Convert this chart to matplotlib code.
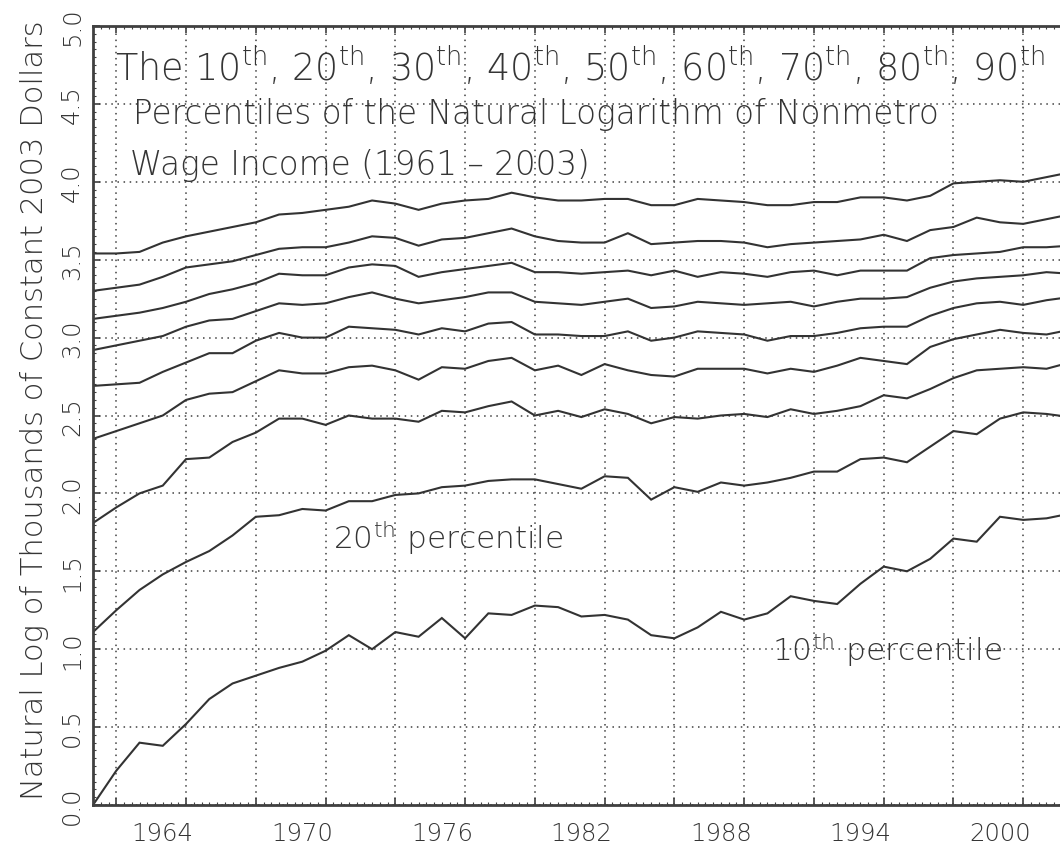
import matplotlib
matplotlib.use("Agg")
import matplotlib.pyplot as plt
from matplotlib.ticker import MultipleLocator

FONT = "DejaVu Sans"
plt.rcParams['font.family'] = [FONT]
plt.rcParams['mathtext.fontset'] = 'custom'
plt.rcParams['mathtext.rm'] = 'DejaVu Sans:light'
plt.rcParams['mathtext.it'] = 'DejaVu Sans:light'
plt.rcParams['mathtext.bf'] = 'DejaVu Sans:light'

years = list(range(1961, 2004))

p10 = [0.00, 0.22, 0.40, 0.38, 0.52, 0.68, 0.78, 0.83, 0.88, 0.92, 0.99, 1.09, 1.00, 1.11, 1.08,
       1.20, 1.07, 1.23, 1.22, 1.28, 1.27, 1.21, 1.22, 1.19, 1.09, 1.07, 1.14, 1.24, 1.19, 1.23,
       1.34, 1.31, 1.29, 1.42, 1.53, 1.50, 1.58, 1.71, 1.69, 1.85, 1.83, 1.84, 1.87]
p20 = [1.11, 1.25, 1.38, 1.48, 1.56, 1.63, 1.73, 1.85, 1.86, 1.90, 1.89, 1.95, 1.95, 1.99, 2.00,
       2.04, 2.05, 2.08, 2.09, 2.09, 2.06, 2.03, 2.11, 2.10, 1.96, 2.04, 2.01, 2.07, 2.05, 2.07,
       2.10, 2.14, 2.14, 2.22, 2.23, 2.20, 2.30, 2.40, 2.38, 2.48, 2.52, 2.51, 2.49]
p30 = [1.81, 1.91, 2.00, 2.05, 2.22, 2.23, 2.33, 2.39, 2.48, 2.48, 2.44, 2.50, 2.48, 2.48, 2.46,
       2.53, 2.52, 2.56, 2.59, 2.50, 2.53, 2.49, 2.54, 2.51, 2.45, 2.49, 2.48, 2.50, 2.51, 2.49,
       2.54, 2.51, 2.53, 2.56, 2.63, 2.61, 2.67, 2.74, 2.79, 2.80, 2.81, 2.80, 2.84]
p40 = [2.35, 2.40, 2.45, 2.50, 2.60, 2.64, 2.65, 2.72, 2.79, 2.77, 2.77, 2.81, 2.82, 2.79, 2.73,
       2.81, 2.80, 2.85, 2.87, 2.79, 2.82, 2.76, 2.83, 2.79, 2.76, 2.75, 2.80, 2.80, 2.80, 2.77,
       2.80, 2.78, 2.82, 2.87, 2.85, 2.83, 2.94, 2.99, 3.02, 3.05, 3.03, 3.02, 3.05]
p50 = [2.69, 2.70, 2.71, 2.78, 2.84, 2.90, 2.90, 2.98, 3.03, 3.00, 3.00, 3.07, 3.06, 3.05, 3.02,
       3.06, 3.04, 3.09, 3.10, 3.02, 3.02, 3.01, 3.01, 3.04, 2.98, 3.00, 3.04, 3.03, 3.02, 2.98,
       3.01, 3.01, 3.03, 3.06, 3.07, 3.07, 3.14, 3.19, 3.22, 3.23, 3.21, 3.24, 3.26]
p60 = [2.92, 2.95, 2.98, 3.01, 3.07, 3.11, 3.12, 3.17, 3.22, 3.21, 3.22, 3.26, 3.29, 3.25, 3.22,
       3.24, 3.26, 3.29, 3.29, 3.23, 3.22, 3.21, 3.23, 3.25, 3.19, 3.20, 3.23, 3.22, 3.21, 3.22,
       3.23, 3.20, 3.23, 3.25, 3.25, 3.26, 3.32, 3.36, 3.38, 3.39, 3.40, 3.42, 3.41]
p70 = [3.12, 3.14, 3.16, 3.19, 3.23, 3.28, 3.31, 3.35, 3.41, 3.40, 3.40, 3.45, 3.47, 3.46, 3.39,
       3.42, 3.44, 3.46, 3.48, 3.42, 3.42, 3.41, 3.42, 3.43, 3.40, 3.43, 3.39, 3.42, 3.41, 3.39,
       3.42, 3.43, 3.40, 3.43, 3.43, 3.43, 3.51, 3.53, 3.54, 3.55, 3.58, 3.58, 3.59]
p80 = [3.30, 3.32, 3.34, 3.39, 3.45, 3.47, 3.49, 3.53, 3.57, 3.58, 3.58, 3.61, 3.65, 3.64, 3.59,
       3.63, 3.64, 3.67, 3.70, 3.65, 3.62, 3.61, 3.61, 3.67, 3.60, 3.61, 3.62, 3.62, 3.61, 3.58,
       3.60, 3.61, 3.62, 3.63, 3.66, 3.62, 3.69, 3.71, 3.77, 3.74, 3.73, 3.76, 3.79]
p90 = [3.54, 3.54, 3.55, 3.61, 3.65, 3.68, 3.71, 3.74, 3.79, 3.80, 3.82, 3.84, 3.88, 3.86, 3.82,
       3.86, 3.88, 3.89, 3.93, 3.90, 3.88, 3.88, 3.89, 3.89, 3.85, 3.85, 3.89, 3.88, 3.87, 3.85,
       3.85, 3.87, 3.87, 3.90, 3.90, 3.88, 3.91, 3.99, 4.00, 4.01, 4.00, 4.03, 4.06]

series = [p10, p20, p30, p40, p50, p60, p70, p80, p90]

x_ticks = [1964, 1970, 1976, 1982, 1988, 1994, 2000]
y_ticks = [0.0, 0.5, 1.0, 1.5, 2.0, 2.5, 3.0, 3.5, 4.0, 4.5, 5.0]

INK = "#353535"
LINE = "#333333"
TW = 'light'

fig = plt.figure(figsize=(10.6, 8.45), dpi=100)
ax = fig.add_axes([93/1060, 39/845, (1069.75-93)/1060, (806-27)/845])

for s in series:
    ax.plot(years, s, color=LINE, lw=1.5, solid_joinstyle='miter')

ax.set_xlim(1961, 2003)
ax.set_ylim(0, 5)

ax.xaxis.set_major_locator(MultipleLocator(3))
ax.xaxis.set_minor_locator(MultipleLocator(1/3))
ax.yaxis.set_major_locator(MultipleLocator(0.5))
ax.yaxis.set_minor_locator(MultipleLocator(0.05))

ax.grid(True, which='major', color="#404040", linestyle=(0, (1, 3)), linewidth=1.1)

ax.set_xticklabels([])
ax.set_yticklabels([])
ax.tick_params(which='major', direction='in', length=5, width=1.2, color="#404040")
ax.tick_params(which='minor', direction='in', length=2.5, width=0.8, color="#404040")
ax.tick_params(axis='both', which='both', top=True, right=False)

for sp in ['left', 'bottom', 'top']:
    ax.spines[sp].set_linewidth(2.0)
    ax.spines[sp].set_color("#404040")
ax.spines['right'].set_visible(False)

# tick labels
for xv in x_ticks:
    ax.text(xv, -0.1, str(xv), ha='center', va='top', fontsize=17.5, color=INK,
            fontweight=TW, clip_on=False)
for yv in y_ticks:
    ax.text(1961 - 0.9, yv, f"{yv:.1f}", ha='center', va='center',
            rotation=90, fontsize=17.5, color=INK, fontweight=TW, clip_on=False)

fig.text(35/1060, 1 - 410/845, "Natural Log of Thousands of Constant 2003 Dollars",
         rotation=90, ha='center', va='center', fontsize=22, color=INK, fontweight=TW)

# title lines inside plot
ax.text(1961.95, 4.75,
        r"The 10$^{\mathrm{th}}$, 20$^{\mathrm{th}}$, 30$^{\mathrm{th}}$, 40$^{\mathrm{th}}$, 50$^{\mathrm{th}}$, "
        r"60$^{\mathrm{th}}$, 70$^{\mathrm{th}}$, 80$^{\mathrm{th}}$, 90$^{\mathrm{th}}$",
        ha='left', va='center', fontsize=26.3, color=INK, fontweight=TW)
ax.text(1962.7, 4.44, "Percentiles of the Natural Logarithm of Nonmetro",
        ha='left', va='center', fontsize=23.5, color=INK, fontweight=TW)
ax.text(1962.6, 4.11, "Wage Income (1961 \u2013 2003)",
        ha='left', va='center', fontsize=23.5, color=INK, fontweight=TW)

ax.text(1971.3, 1.72, r"20$^{\mathrm{th}}$ percentile", ha='left', va='center',
        fontsize=22.5, color=INK, fontweight=TW)
ax.text(1990.2, 1.0, r"10$^{\mathrm{th}}$ percentile", ha='left', va='center',
        fontsize=22.5, color=INK, fontweight=TW)

fig.savefig("out.png", dpi=100)
